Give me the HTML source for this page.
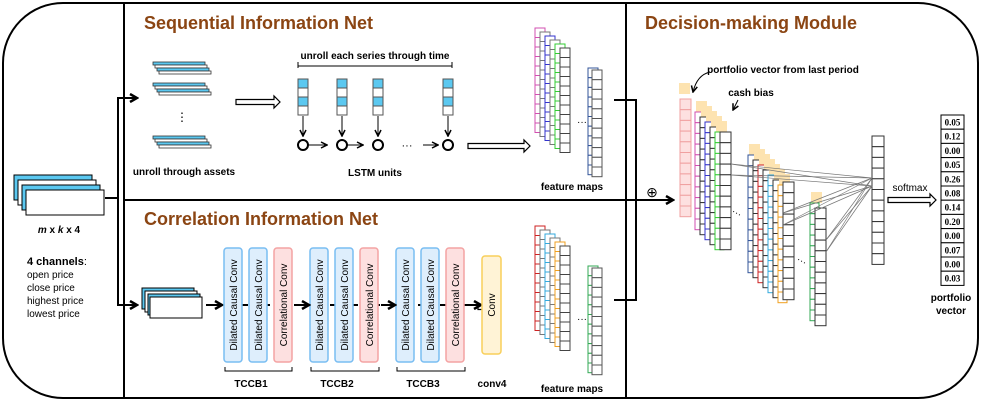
<!DOCTYPE html>
<html><head><meta charset="utf-8"><style>
html,body{margin:0;padding:0;background:#fff;}
svg{display:block;font-family:"Liberation Sans",sans-serif;}
.t{font-weight:bold;fill:#8B4513;font-size:18px}
.b{font-weight:bold;font-size:10px}
.n{font-size:10px}
</style></head><body>
<svg id="s" width="981" height="402" viewBox="0 0 981 402" xmlns="http://www.w3.org/2000/svg">
<defs><marker id="ah" markerWidth="8" markerHeight="8" refX="7" refY="4" orient="auto" markerUnits="userSpaceOnUse"><path d="M1,1 L7,4 L1,7" fill="none" stroke="#000" stroke-width="1.5"/></marker>
<marker id="ab" markerWidth="10" markerHeight="10" refX="8" refY="5" orient="auto" markerUnits="userSpaceOnUse"><path d="M1,1 L8,5 L1,9" fill="none" stroke="#000" stroke-width="2.5"/></marker></defs>
<rect x="3" y="3" width="975" height="395" rx="60" fill="#fff" stroke="#000" stroke-width="2"/>
<line x1="124" y1="3" x2="124" y2="398" stroke="#000" stroke-width="2"/>
<line x1="124" y1="200" x2="626" y2="200" stroke="#000" stroke-width="2"/>
<line x1="626" y1="3" x2="626" y2="398" stroke="#000" stroke-width="2"/>
<text x="144" y="29" class="t">Sequential Information Net</text>
<text x="144" y="225" class="t">Correlation Information Net</text>
<text x="645" y="29" class="t">Decision-making Module</text>
<g id="g"></g>
<text x="59" y="233" class="b" text-anchor="middle" font-style="italic">m <tspan font-style="normal">x</tspan> k <tspan font-style="normal">x 4</tspan></text>
<text x="27" y="265" font-size="11"><tspan font-weight="bold">4 channels</tspan>:</text>
<text x="27" y="278" class="n">open price</text>
<text x="27" y="291" class="n">close price</text>
<text x="27" y="304" class="n">highest price</text>
<text x="27" y="317" class="n">lowest price</text>
<polyline points="105,198 118,198 118,98 137,98" fill="none" stroke="#000" stroke-width="2" marker-end="url(#ab)"/>
<polyline points="118,198 118,305 137,305" fill="none" stroke="#000" stroke-width="2" marker-end="url(#ab)"/>
<text x="184" y="175" class="b" text-anchor="middle">unroll through assets</text>
<text x="182" y="121" font-size="12" text-anchor="middle">⋮</text>
<text x="375" y="59" class="b" text-anchor="middle">unroll each series through time</text>
<path d="M298,62 v6 M298,66 H452 M452,62 v6" stroke="#000" stroke-width="1"/>
<text x="375" y="176" class="b" text-anchor="middle">LSTM units</text>
<text x="407" y="149" font-size="11" text-anchor="middle">···</text>
<text x="572" y="190" class="b" text-anchor="middle" font-size="9">feature maps</text>
<text x="572" y="392" class="b" text-anchor="middle" font-size="9">feature maps</text>
<text x="251" y="387" class="b" text-anchor="middle">TCCB1</text>
<text x="337" y="387" class="b" text-anchor="middle">TCCB2</text>
<text x="423" y="387" class="b" text-anchor="middle">TCCB3</text>
<text x="492" y="387" class="b" text-anchor="middle">conv4</text>
<path d="M225,367 v4 H292 v-4 M311,367 v4 H379 v-4 M397,367 v4 H465 v-4" fill="none" stroke="#000"/>
<polyline points="614,100 636,100 636,300 614,300" fill="none" stroke="#000" stroke-width="2"/>
<line x1="626" y1="200" x2="673" y2="200" stroke="#000" stroke-width="2" marker-end="url(#ab)"/>
<text x="652" y="197" font-size="14" text-anchor="middle">⊕</text>
<text x="783" y="73" class="b" text-anchor="middle">portfolio vector from last period</text>
<text x="751" y="96" class="b" text-anchor="middle">cash bias</text>
<path d="M710,72 Q697,75 693,92" fill="none" stroke="#000" marker-end="url(#ah)"/>
<line x1="738" y1="100" x2="733" y2="110" stroke="#000" marker-end="url(#ah)"/>
<text x="910" y="191" font-size="10" text-anchor="middle">softmax</text>
<text x="951" y="301" class="b" text-anchor="middle">portfolio</text>
<text x="951" y="314" class="b" text-anchor="middle">vector</text>
</svg>
<script>
var g=document.getElementById('g'),NS='http://www.w3.org/2000/svg';
function el(n,a){var e=document.createElementNS(NS,n);for(var k in a)e.setAttribute(k,a[k]);g.appendChild(e);return e;}
function col(x,y,w,ch,n,c,fill,sw){for(var i=0;i<n;i++)el('rect',{x:x,y:y+i*ch,width:w,height:ch,fill:fill||'#fff',stroke:c,'stroke-width':sw||1});}
[[14,175,'#5bc8f0'],[18,180,'#fff'],[22,185,'#5bc8f0'],[26,190,'#fff']].forEach(function(r){el('rect',{x:r[0],y:r[1],width:78,height:25,fill:r[2],stroke:'#000'});});
[62,83,136].forEach(function(y){[[153,0,'#5bc8f0'],[155,3,'#fff'],[157,6,'#5bc8f0'],[159,9,'#fff']].forEach(function(r){el('rect',{x:r[0],y:y+r[1],width:52,height:3,fill:r[2],stroke:'#333','stroke-width':0.8});});});
function hollow(x1,x2,y){el('path',{d:'M'+x1+','+(y-2.5)+' H'+(x2-6)+' V'+(y-6)+' L'+x2+','+y+' L'+(x2-6)+','+(y+6)+' V'+(y+2.5)+' H'+x1+' Z',fill:'#fff',stroke:'#000','stroke-width':1.2});}
hollow(236,280,102);hollow(468,530,146);hollow(478,497,307);hollow(888,936,200);
[298,337,373,443].forEach(function(x,i){
 ['#5bc8f0','#fff','#5bc8f0','#fff'].forEach(function(f,j){el('rect',{x:x,y:79+j*9,width:10,height:9,fill:f,stroke:'#555'});});
 el('line',{x1:x+5,y1:116,x2:x+5,y2:136,stroke:'#000','marker-end':'url(#ah)'});
 el('circle',{cx:x+5,cy:145,r:5,fill:'#fff',stroke:'#000','stroke-width':2});
});
[[309,327],[347,363],[423,438]].forEach(function(a){el('line',{x1:a[0],y1:145,x2:a[1],y2:145,stroke:'#000','marker-end':'url(#ah)'});});
[[142,288,'#5bc8f0'],[145,291,'#fff'],[148,294,'#5bc8f0'],[150,297,'#fff']].forEach(function(r){el('rect',{x:r[0],y:r[1],width:52,height:21,fill:r[2],stroke:'#000'});});
el('line',{x1:206,y1:305,x2:222,y2:305,stroke:'#000','stroke-width':2,'marker-end':'url(#ab)'});
el('line',{x1:242,y1:305,x2:482,y2:305,stroke:'#000','stroke-width':2,'stroke-dasharray':'6,5'});
[[224,0],[249,0],[274,1],[310,0],[335,0],[360,1],[396,0],[421,0],[446,1]].forEach(function(b){
 el('rect',{x:b[0],y:248,width:18,height:114,rx:3,fill:b[1]?'#fde0e0':'#deeefc',stroke:b[1]?'#f4a3a3':'#79bdf2','stroke-width':1.5});
 var t=el('text',{x:0,y:0,'font-size':'10',transform:'translate('+(b[0]+13)+',305) rotate(-90)','text-anchor':'middle'});t.textContent=b[1]?'Correlational Conv':'Dilated Causal Conv';
});
[[292,310],[379,396],[465,482]].forEach(function(a){el('line',{x1:a[0]+2,y1:305,x2:a[1]-1,y2:305,stroke:'#000','stroke-width':2,'marker-end':'url(#ab)'});});
el('rect',{x:482,y:256,width:19,height:98,rx:3,fill:'#fff3d6',stroke:'#f8cf5a','stroke-width':1.5});
var t=el('text',{x:0,y:0,'font-size':'10',transform:'translate(495,305) rotate(-90)','text-anchor':'middle'});t.textContent='Conv';
function stack(x,y,cols,n,ch,yb){cols.forEach(function(c,i){col(x+i*5,y+i*yb,10,ch,n,c);});}
stack(535,28,['#d24fb0','#777','#3333cc','#777','#33cc33','#444'],11,9.5,4);
col(588,68,10,9.7,11,'#335599');col(592,70,10,9.7,11,'#555');
el('text',{x:577,y:125,'font-size':10}).textContent='···';
stack(535,226,['#cc2222','#777','#33aadd','#777','#f0a020','#444'],11,9.5,4);
col(588,266,10,9.7,11,'#33aa55');col(592,268,10,9.7,11,'#555');
el('text',{x:577,y:322,'font-size':10}).textContent='···';
el('rect',{x:679,y:83,width:11,height:11,fill:'#fde3b0'});
col(680,99,11,10.7,11,'#f0a0a0','#fde0e0');
function dstack(x,y,cols,n,ch){cols.forEach(function(c,i){var xx=x+i*5,yy=y+i*5;el('rect',{x:xx+1,y:yy-11,width:11,height:11,fill:'#fde3b0'});col(xx,yy,9,ch,n,c);});}
dstack(695,112,['#d24fb0','#333','#3333cc','#333','#33cc33'],11,10.7);
col(720,132,11,10.7,11,'#333');
dstack(748,155,['#335599','#333','#cc2222','#333','#33aadd','#333','#f0a020'],11,10.7);
col(783,182,11,10.7,11,'#333');
dstack(810,203,['#33aa55'],11,10.7);
col(815,208,11,10.7,11,'#333');
el('text',{x:732,y:215,'font-size':10,transform:'rotate(30,735,212)'}).textContent='···';
el('text',{x:797,y:263,'font-size':10,transform:'rotate(30,800,260)'}).textContent='···';
col(872,136,12,10.7,12,'#333');
[[731,164],[731,175],[783,213],[783,225],[826,240],[826,252]].forEach(function(p){[178,186].forEach(function(ty){el('line',{x1:p[0],y1:p[1],x2:872,y2:ty,stroke:'#777','stroke-width':0.7});});});
var v=['0.05','0.12','0.00','0.05','0.26','0.08','0.14','0.20','0.00','0.07','0.00','0.03'];
v.forEach(function(s,i){el('rect',{x:941,y:115+i*14.2,width:23,height:14.2,fill:'#fff',stroke:'#000'});var tt=el('text',{x:952.5,y:125.5+i*14.2,'font-size':9,'font-family':'Liberation Serif,serif','font-weight':'bold','text-anchor':'middle'});tt.textContent=s;});
</script>
</body></html>
